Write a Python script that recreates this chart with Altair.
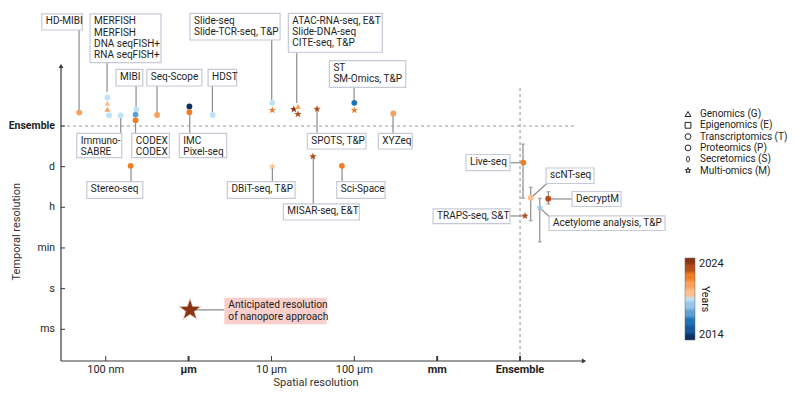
import altair as alt
import pandas as pd

FONT = "Roboto, Liberation Sans, sans-serif"
TEXT = "#1e1e1e"
AXIS = "#3a3a3a"
LINE = "#8c8c8c"

# ---------------- data: methods (x = log10 spatial resolution in m, Ensemble = -2; y = temporal level)
methods = ["HD-MIBI", "MERFISH", "MERFISH", "DNA seqFISH+", "RNA seqFISH+", "Immuno-SABRE",
           "MIBI", "CODEX", "CODEX", "Seq-Scope", "IMC", "Pixel-seq", "HDST", "Slide-seq",
           "Slide-TCR-seq", "ATAC-RNA-seq", "Slide-DNA-seq", "CITE-seq", "SPOTS", "ST",
           "SM-Omics", "XYZeq", "Stereo-seq", "DBiT-seq", "Sci-Space", "MISAR-seq",
           "Live-seq", "scNT-seq", "DecryptM", "Acetylome analysis", "TRAPS-seq"]
years = [2021, 2019, 2020, 2021, 2019, 2019,
         2019, 2017, 2022, 2021, 2014, 2022, 2019, 2019,
         2022, 2024, 2021, 2023, 2023, 2016,
         2022, 2021, 2022, 2020, 2022, 2023,
         2022, 2020, 2023, 2018, 2023]
omics_codes = ["P", "T", "G", "G", "T", "P",
               "P", "P", "P", "T", "P", "T", "T", "T",
               "M", "M", "G", "M", "M", "T",
               "M", "T", "T", "M", "T", "M",
               "T", "T", "P", "M", "M"]
spatial = [-7.32, -6.98, -6.98, -6.98, -6.96, -6.82,
           -6.63, -6.64, -6.64, -6.38, -5.99, -5.99, -5.71, -4.99,
           -4.99, -4.73, -4.68, -4.68, -4.45, -4.00,
           -4.00, -3.53, -6.70, -4.99, -4.15, -4.50,
           -1.96, -1.87, -1.66, -1.76, -1.94]
temporal = [5.33, 5.70, 5.56, 5.41, 5.26, 5.26,
            5.41, 5.28, 5.14, 5.27, 5.48, 5.34, 5.27, 5.57,
            5.39, 5.41, 5.48, 5.29, 5.42, 5.57,
            5.39, 5.31, 4.02, 4.00, 4.02, 4.25,
            4.10, 3.23, 3.21, 2.99, 2.79]

# error bars (temporal range)
err_x = [-1.964, -1.871, -1.658, -1.762]
err_lo = [3.222, 2.671, 3.082, 2.147]
err_hi = [4.557, 3.492, 3.384, 3.222]

# anticipated nanopore approach
nano_x = [-5.983]
nano_y = [0.475]
nano_text = ["Anticipated resolution\nof nanopore approach"]
nano_box = [(-5.569, -4.333, 0.777, 0.123)]
nano_link = [(-5.983, 0.475, -5.569, 0.475)]

# ---------------- callout boxes
box_text = ["HD-MIBI", "MERFISH\nMERFISH\nDNA seqFISH+\nRNA seqFISH+", "MIBI", "Seq-Scope", "HDST",
            "Slide-seq\nSlide-TCR-seq, T&P", "ATAC-RNA-seq, E&T\nSlide-DNA-seq\nCITE-seq, T&P",
            "ST\nSM-Omics, T&P", "Immuno-\nSABRE", "CODEX\nCODEX", "IMC\nPixel-seq", "SPOTS, T&P",
            "XYZeq", "Stereo-seq", "DBiT-seq, T&P", "Sci-Space", "MISAR-seq, E&T", "Live-seq",
            "scNT-seq", "DecryptM", "Acetylome analysis, T&P", "TRAPS-seq, S&T"]
box_left = [-7.772, -7.189, -6.876, -6.505, -5.765, -5.983, -4.796, -4.301, -7.350, -6.686, -6.112,
            -4.567, -3.710, -7.229, -5.532, -4.212, -4.857, -2.652, -1.686, -1.372, -1.650, -3.050]
box_right = [-7.282, -6.333, -6.553, -5.841, -5.421, -4.896, -3.662, -3.379, -6.807, -6.232, -5.540,
             -3.859, -3.300, -6.553, -4.715, -3.629, -3.939, -2.121, -1.107, -0.781, -0.250, -2.121]
box_top = [7.755, 7.755, 6.394, 6.394, 6.394, 7.772, 7.772, 6.606, 4.820, 4.820, 4.820,
           4.820, 4.820, 3.630, 3.630, 3.630, 3.082, 4.299, 3.967, 3.389, 2.787, 2.960]
box_bottom = [7.361, 6.557, 5.984, 5.984, 5.984, 7.115, 6.813, 5.952, 4.220, 4.220, 4.220,
              4.434, 4.434, 3.222, 3.222, 3.222, 2.688, 3.901, 3.586, 3.020, 2.430, 2.600]
# leader lines from point to box
link_x1 = [-7.322, -6.984, -6.634, -6.381, -5.713, -4.997, -4.695, -4.003, -6.819, -6.640, -5.986,
           -4.450, -3.533, -6.695, -4.989, -4.148, -4.495, -2.121, -1.871, -1.658, -1.762, -2.121]
link_y1 = [5.327, 5.836, 5.411, 5.271, 5.271, 5.573, 5.566, 5.573, 5.263, 5.140, 5.344,
           5.418, 5.312, 4.016, 3.999, 4.024, 4.245, 4.097, 3.229, 3.205, 2.991, 2.787]
link_x2 = [-7.322, -6.984, -6.634, -6.381, -5.713, -4.997, -4.695, -4.003, -6.819, -6.640, -5.986,
           -4.450, -3.533, -6.695, -4.989, -4.148, -4.495, -1.964, -1.674, -1.372, -1.644, -1.940]
link_y2 = [7.361, 6.557, 5.984, 5.984, 5.984, 7.115, 6.813, 5.952, 4.820, 4.820, 4.820,
           4.820, 4.820, 3.630, 3.630, 3.630, 3.082, 4.097, 3.591, 3.205, 2.762, 2.787]

# ---------------- scales, ticks, legends
omics_names = ["Genomics (G)", "Epigenomics (E)", "Transcriptomics (T)",
               "Proteomics (P)", "Secretomics (S)", "Multi-omics (M)"]
omics_code_list = ["G", "E", "T", "P", "S", "M"]
STAR = ("M0,-1L0.235,-0.324L0.951,-0.309L0.38,0.124L0.588,0.809L0,0.4"
        "L-0.588,0.809L-0.38,0.124L-0.951,-0.309L-0.235,-0.324Z")
OVAL = "M0,-1A0.5,1,0,1,1,0,1A0.5,1,0,1,1,0,-1Z"
omics_shapes = ["triangle-up", "square", "circle", "circle", OVAL, STAR]

year_first, year_last = 2014, 2024
year_colors = ["#0e2f63", "#16569c", "#1f74b8", "#5fa0d6", "#94c7ea", "#bfe3f6",
               "#fcbf8c", "#f9a05a", "#f07d24", "#b84d1c", "#8a3414"]
# stepped colour scale: each colour holds over an equal share of [2014, 2024]
n_col = len(year_colors)
step = (year_last - year_first) / n_col
col_domain, col_range = [], []
for k, c in enumerate(year_colors):
    col_domain += [year_first + k * step + (1e-4 if k else 0), year_first + (k + 1) * step]
    col_range += [c, c]

x_ticks = [-7, -6, -5, -4, -3, -2]
x_tick_labels = ["100 nm", "µm", "10 µm", "100 µm", "mm", "Ensemble"]
x_major = [False, True, False, False, True, True]
y_ticks = [0, 1, 2, 3, 4, 5]
y_tick_labels = ["ms", "s", "min", "h", "d", "Ensemble"]
y_major = [False, False, False, False, False, True]
x_title = "Spatial resolution"
y_title = "Temporal resolution"

X_DOMAIN = [-7.54, -1.216]
Y_DOMAIN = [-0.78, 6.5]
W, H = 524, 296
ensemble_h = {"x1": [-7.54], "x2": [-1.35], "y": [5]}
ensemble_v = {"x": [-2], "y1": [5.935], "y2": [-0.78]}

xs = alt.Scale(domain=X_DOMAIN, nice=False, zero=False)
ys = alt.Scale(domain=Y_DOMAIN, nice=False, zero=False)

code_to_name = dict(zip(omics_code_list, omics_names))
pts = pd.DataFrame({"method": methods, "year": years,
                    "omics": [code_to_name[c] for c in omics_codes],
                    "x": spatial, "y": temporal})
boxes = pd.DataFrame({"text": box_text, "l": box_left, "r": box_right, "t": box_top, "b": box_bottom})
links = pd.DataFrame({"x1": link_x1, "y1": link_y1, "x2": link_x2, "y2": link_y2})
errs = pd.DataFrame({"x": err_x, "lo": err_lo, "hi": err_hi})
caps = pd.DataFrame({"x": err_x + err_x, "y": err_lo + err_hi})
nano = pd.DataFrame({"x": nano_x, "y": nano_y})
nano_b = pd.DataFrame({"text": nano_text, "l": [b[0] for b in nano_box], "r": [b[1] for b in nano_box],
                       "t": [b[2] for b in nano_box], "b": [b[3] for b in nano_box]})
nano_l = pd.DataFrame({"x1": [l[0] for l in nano_link], "y1": [l[1] for l in nano_link],
                       "x2": [l[2] for l in nano_link], "y2": [l[3] for l in nano_link]})
xt = pd.DataFrame({"v": x_ticks, "label": x_tick_labels, "major": x_major})
yt = pd.DataFrame({"v": y_ticks, "label": y_tick_labels, "major": y_major})
one = pd.DataFrame({"a": [0]})


def X(f):
    return alt.X(f, scale=xs, axis=None, title=None)


def Y(f):
    return alt.Y(f, scale=ys, axis=None, title=None)


shape_legend = alt.Legend(
    orient="none", legendX=622, legendY=44, title=None, padding=0,
    symbolFillColor="white", symbolStrokeColor="#222222", symbolStrokeWidth=1, symbolSize=34,
    labelFont=FONT, labelFontSize=10, labelColor=TEXT, labelOffset=7, rowPadding=1.3)
color_legend = alt.Legend(
    type="gradient", direction="vertical", orient="none", legendX=624, legendY=193,
    gradientLength=82, gradientThickness=10, gradientStrokeColor="#666666", gradientStrokeWidth=0.5,
    values=[year_first, year_last], format="d",
    labelFont=FONT, labelFontSize=11, labelColor=TEXT, labelOffset=4, labelOverlap=False,
    title="Years", titleOrient="right", titleFont=FONT, titleFontSize=10.5,
    titleFontWeight="normal", titleColor=TEXT, titleAnchor="middle", titlePadding=-24)

# ---------------- layers
ref_h = alt.Chart(pd.DataFrame(ensemble_h)).mark_rule(
    color="#9a9a9a", strokeDash=[3, 3], strokeWidth=1.1).encode(x=X("x1:Q"), x2="x2:Q", y=Y("y:Q"))
ref_v = alt.Chart(pd.DataFrame(ensemble_v)).mark_rule(
    color="#9a9a9a", strokeDash=[3, 3], strokeWidth=1.1).encode(x=X("x:Q"), y=Y("y1:Q"), y2="y2:Q")

link_layer = alt.Chart(links).mark_rule(color=LINE, strokeWidth=1.2).encode(
    x=X("x1:Q"), y=Y("y1:Q"), x2="x2:Q", y2="y2:Q")
nano_link_layer = alt.Chart(nano_l).mark_rule(color=LINE, strokeWidth=1.2).encode(
    x=X("x1:Q"), y=Y("y1:Q"), x2="x2:Q", y2="y2:Q")

err_layer = alt.Chart(errs).mark_rule(color=LINE, strokeWidth=1.2).encode(
    x=X("x:Q"), y=Y("lo:Q"), y2="hi:Q")
cap_layer = alt.Chart(caps).mark_tick(color=LINE, orient="horizontal", size=4, thickness=1.2).encode(
    x=X("x:Q"), y=Y("y:Q"))

box_layer = alt.Chart(boxes).mark_rect(fill="white", stroke="#c5cad6", strokeWidth=1.2).encode(
    x=X("l:Q"), x2="r:Q", y=Y("t:Q"), y2="b:Q")
text_layer = alt.Chart(boxes).mark_text(
    font=FONT, fontSize=10, color=TEXT, align="left", baseline="top", dx=4, dy=2.5,
    lineBreak="\n", lineHeight=11.2).encode(x=X("l:Q"), y=Y("t:Q"), text="text:N")

nano_box_layer = alt.Chart(nano_b).mark_rect(fill="#f8cfca").encode(
    x=X("l:Q"), x2="r:Q", y=Y("t:Q"), y2="b:Q")
nano_text_layer = alt.Chart(nano_b).mark_text(
    font=FONT, fontSize=10.2, color=TEXT, align="left", baseline="top", dx=4, dy=2.5,
    lineBreak="\n", lineHeight=12).encode(x=X("l:Q"), y=Y("t:Q"), text="text:N")
nano_halo = alt.Chart(nano).mark_point(shape=STAR, filled=True, color="#8a3414", opacity=0.3, size=620).encode(
    x=X("x:Q"), y=Y("y:Q"))
nano_star = alt.Chart(nano).mark_point(shape=STAR, filled=True, color="#8a3414", opacity=1, size=400).encode(
    x=X("x:Q"), y=Y("y:Q"))

point_layer = alt.Chart(pts).mark_point(filled=True, opacity=1).encode(
    x=X("x:Q"),
    y=Y("y:Q"),
    color=alt.Color("year:Q", scale=alt.Scale(domain=col_domain, range=col_range),
                    legend=color_legend),
    shape=alt.Shape("omics:N", scale=alt.Scale(domain=omics_names, range=omics_shapes), legend=shape_legend),
    size=alt.condition("datum.omics == 'Multi-omics (M)'", alt.value(60), alt.value(34)),
)

# ---- axes (domain lines, inward ticks, labels, titles)
x_domain_line = alt.Chart(one).mark_rule(color=AXIS, strokeWidth=1.2).encode(
    x=alt.value(0), x2=alt.value(W), y=alt.value(H))
y_domain_line = alt.Chart(one).mark_rule(color=AXIS, strokeWidth=1.2).encode(
    x=alt.value(0), y=alt.value(0), y2=alt.value(H))
xtick_layer = alt.Chart(xt).mark_rule(color=AXIS).encode(
    x=X("v:Q"), y=alt.value(H), y2=alt.value(H - 5),
    strokeWidth=alt.condition("datum.major", alt.value(2), alt.value(1)))
ytick_layer = alt.Chart(yt).mark_rule(color=AXIS, strokeWidth=1).encode(
    y=Y("v:Q"), x=alt.value(0), x2=alt.value(4))


def x_labels(major):
    return alt.Chart(xt).transform_filter(
        "datum.major" if major else "!datum.major").mark_text(
        font=FONT, fontSize=11, color=TEXT, align="center", baseline="middle",
        fontWeight="bold" if major else "normal").encode(
        x=X("v:Q"), y=alt.value(H + 8.5), text="label:N")


def y_labels(major):
    return alt.Chart(yt).transform_filter(
        "datum.major" if major else "!datum.major").mark_text(
        font=FONT, fontSize=10.5, color=TEXT, align="right", baseline="middle",
        fontWeight="bold" if major else "normal").encode(
        y=Y("v:Q"), x=alt.value(-6), text="label:N")


xtitle_layer = alt.Chart(pd.DataFrame({"t": [x_title]})).mark_text(
    font=FONT, fontSize=11, color="#333333", align="center", baseline="middle").encode(
    x=alt.value(255), y=alt.value(H + 22), text="t:N")
ytitle_layer = alt.Chart(pd.DataFrame({"t": [y_title]})).mark_text(
    font=FONT, fontSize=11, color="#333333", align="center", baseline="middle", angle=270).encode(
    x=alt.value(-44), y=alt.value(166.7), text="t:N")

arrow_up = alt.Chart(one).mark_point(shape="triangle-up", filled=True, color=AXIS, size=24, opacity=1).encode(
    x=alt.value(0), y=alt.value(1))
arrow_right = alt.Chart(one).mark_point(shape="triangle-right", filled=True, color=AXIS, size=24, opacity=1).encode(
    x=alt.value(W - 1), y=alt.value(H))

chart = alt.layer(
    ref_h, ref_v, link_layer, nano_link_layer, err_layer, cap_layer,
    box_layer, text_layer, nano_box_layer, nano_text_layer, nano_halo, nano_star,
    point_layer, x_domain_line, y_domain_line, xtick_layer, ytick_layer,
    x_labels(True), x_labels(False), y_labels(True), y_labels(False),
    xtitle_layer, ytitle_layer, arrow_up, arrow_right,
).properties(
    width=W, height=H,
    padding={"left": 53, "top": 57, "right": 206, "bottom": 27},
    autosize=alt.AutoSizeParams(type="none"),
).configure(font=FONT).configure_view(strokeWidth=0, strokeOpacity=0)

chart.save("out.html", embed_options={"renderer": "svg", "actions": False})
